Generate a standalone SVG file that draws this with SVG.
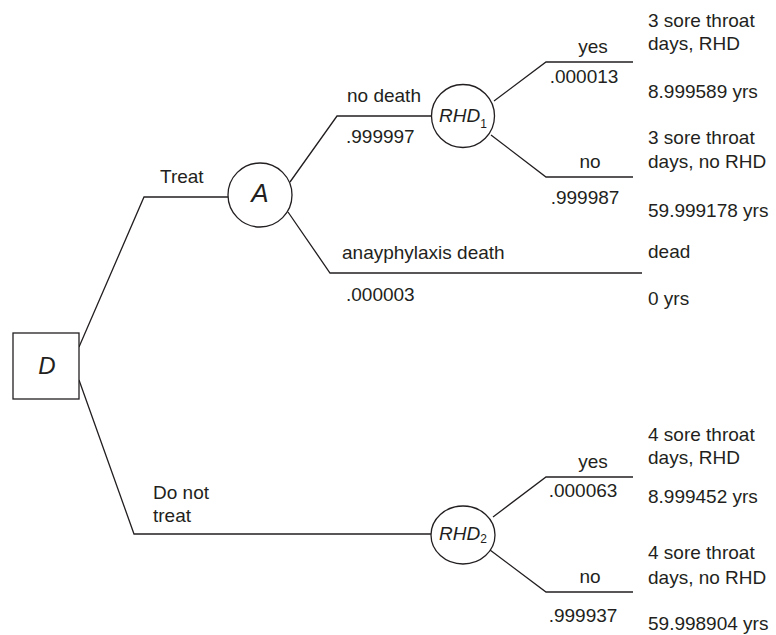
<svg xmlns="http://www.w3.org/2000/svg" width="776" height="635" viewBox="0 0 776 635">
<style>
.ln{fill:none;stroke:#231f20;stroke-width:1.3}
.nd{fill:#fff;stroke:#231f20;stroke-width:1.3}
text{font-family:"Liberation Sans",Arial,sans-serif;font-size:19px;fill:#231f20}
.c{text-anchor:middle}
.it{font-style:italic}
.sub{font-size:12px;font-style:normal}
</style>
<rect width="776" height="635" fill="#fff"/>
<g id="connectors">
<polyline class="ln" points="79,347 144,197 228,197"/>
<polyline class="ln" points="79,380 134,534 431,534"/>
<polyline class="ln" points="290,182 337,116 432,116"/>
<polyline class="ln" points="288,212 330,273 642,273"/>
<polyline class="ln" points="494,101 546,62 633,62"/>
<polyline class="ln" points="491,135 546,177 633,177"/>
<polyline class="ln" points="493,517 546,477 633,477"/>
<polyline class="ln" points="490,550 546,592 633,592"/>
</g>
<g id="labels">
<text x="160" y="183">Treat</text>
<text x="153" y="499">Do not</text>
<text x="153" y="522">treat</text>
<text x="347" y="102">no death</text>
<text x="346" y="143">.999997</text>
<text x="342" y="259">anayphylaxis death</text>
<text x="346" y="301">.000003</text>
<text class="c" x="593" y="53">yes</text>
<text class="c" x="584" y="83">.000013</text>
<text class="c" x="590" y="168">no</text>
<text class="c" x="585" y="204">.999987</text>
<text class="c" x="593" y="468">yes</text>
<text class="c" x="583" y="497">.000063</text>
<text class="c" x="590" y="583">no</text>
<text class="c" x="583" y="622">.999937</text>
</g>
<g id="outcomes">
<text x="648" y="27">3 sore throat</text>
<text x="648" y="50">days, RHD</text>
<text x="648" y="98">8.999589 yrs</text>
<text x="648" y="144">3 sore throat</text>
<text x="648" y="168">days, no RHD</text>
<text x="648" y="217">59.999178 yrs</text>
<text x="648" y="258">dead</text>
<text x="648" y="305">0 yrs</text>
<text x="648" y="441">4 sore throat</text>
<text x="648" y="464">days, RHD</text>
<text x="648" y="503">8.999452 yrs</text>
<text x="648" y="559">4 sore throat</text>
<text x="648" y="584">days, no RHD</text>
<text x="648" y="630">59.998904 yrs</text>
</g>
<g id="node-D">
<rect class="nd" x="13" y="333" width="66" height="66"/>
<text class="c it" x="47" y="374" style="font-size:24px">D</text>
</g>
<g id="node-A">
<circle class="nd" cx="260" cy="195" r="32"/>
<text class="c it" x="260" y="202" style="font-size:26px">A</text>
</g>
<g id="node-RHD1">
<circle class="nd" cx="463" cy="116" r="31.5"/>
<text class="it" x="439" y="122">RHD<tspan class="sub" dy="6">1</tspan></text>
</g>
<g id="node-RHD2">
<ellipse class="nd" cx="463" cy="535" rx="32" ry="29"/>
<text class="it" x="439" y="540">RHD<tspan class="sub" dy="3">2</tspan></text>
</g>
</svg>
